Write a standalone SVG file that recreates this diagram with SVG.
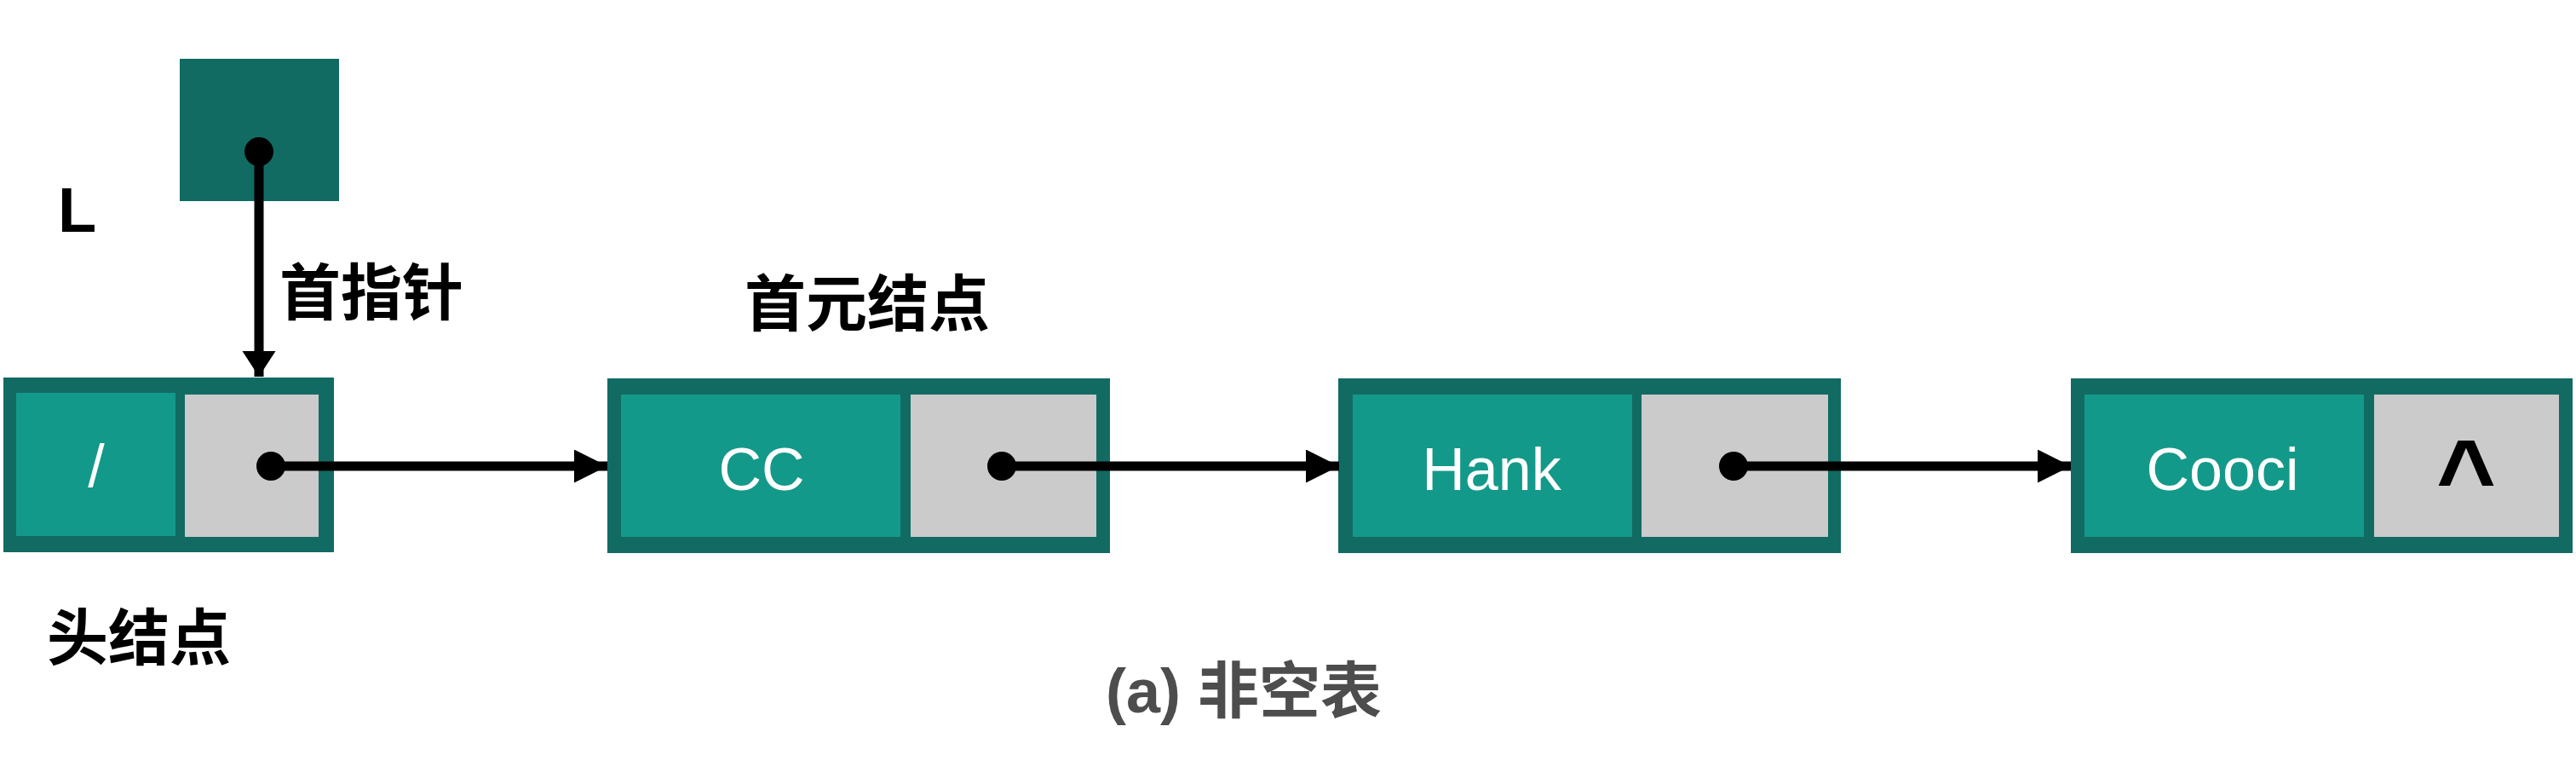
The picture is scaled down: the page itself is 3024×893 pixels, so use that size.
<svg xmlns="http://www.w3.org/2000/svg" width="3024" height="893" viewBox="0 0 3024 893">
<style>
.outer{fill:#116b63}
.data{fill:#139989}
.ptr{fill:#cbcbcb}
.val{font-family:"Liberation Sans",Arial,sans-serif;font-size:70px;fill:#ffffff;text-anchor:middle}
.cjk{font-family:"Liberation Sans","Noto Sans CJK SC",sans-serif;font-weight:700;font-size:72px;fill:#000000;text-anchor:middle}
.line{stroke:#000;stroke-width:11;fill:none}
</style>
<defs>
<marker id="ah" markerUnits="userSpaceOnUse" markerWidth="40" markerHeight="40" refX="39" refY="19.5" orient="auto">
<path d="M0,0 L39,19.5 L0,39 z" fill="#000"/>
</marker>
<marker id="ahv" markerUnits="userSpaceOnUse" markerWidth="40" markerHeight="40" refX="30" refY="19.5" orient="auto">
<path d="M0,0 L30,19.5 L0,39 z" fill="#000"/>
</marker>
</defs>
<rect width="3024" height="893" fill="#ffffff"/>

<g id="L">
<rect class="outer" x="211" y="69" width="187" height="167"/>
<text x="68" y="272" font-family="Liberation Sans,Arial,sans-serif" font-weight="700" font-size="74">L</text>
</g>

<g id="head">
<rect class="outer" x="4" y="443" width="388" height="205"/>
<rect class="data" x="19" y="461" width="187" height="168"/>
<rect class="ptr" x="217" y="463" width="157" height="167"/>
<text class="val" x="113" y="571">/</text>
</g>

<g id="cc">
<rect class="outer" x="713" y="444" width="590" height="205"/>
<rect class="data" x="729" y="463" width="328" height="167"/>
<rect class="ptr" x="1069" y="463" width="218" height="167"/>
<text class="val" x="894" y="575">CC</text>
</g>

<g id="hank">
<rect class="outer" x="1571" y="444" width="590" height="205"/>
<rect class="data" x="1588" y="463" width="328" height="167"/>
<rect class="ptr" x="1927" y="463" width="219" height="167"/>
<text class="val" x="1751" y="575">Hank</text>
</g>

<g id="cooci">
<rect class="outer" x="2431" y="444" width="589" height="205"/>
<rect class="data" x="2447" y="463" width="328" height="167"/>
<rect class="ptr" x="2787" y="463" width="217" height="167"/>
<text class="val" x="2609" y="575">Cooci</text>
<text x="2895" y="600" font-family="Liberation Sans,Arial,sans-serif" font-weight="700" font-size="120" fill="#000" text-anchor="middle">^</text>
</g>

<g id="labels">
<text class="cjk" x="436" y="369">首指针</text>
<text class="cjk" x="1018" y="382">首元结点</text>
<text class="cjk" x="163" y="774">头结点</text>
<text class="cjk" x="1460" y="836" style="fill:#4d4d4d">(a) 非空表</text>
</g>

<g id="connectors">
<line class="line" x1="304" y1="178" x2="304" y2="442" marker-end="url(#ahv)"/>
<circle cx="304" cy="178" r="17" fill="#000"/>
<line class="line" x1="318" y1="547" x2="713" y2="547" marker-end="url(#ah)"/>
<circle cx="318" cy="547" r="17" fill="#000"/>
<line class="line" x1="1176" y1="547" x2="1572" y2="547" marker-end="url(#ah)"/>
<circle cx="1176" cy="547" r="17" fill="#000"/>
<line class="line" x1="2035" y1="547" x2="2431" y2="547" marker-end="url(#ah)"/>
<circle cx="2035" cy="547" r="17" fill="#000"/>
</g>
</svg>
